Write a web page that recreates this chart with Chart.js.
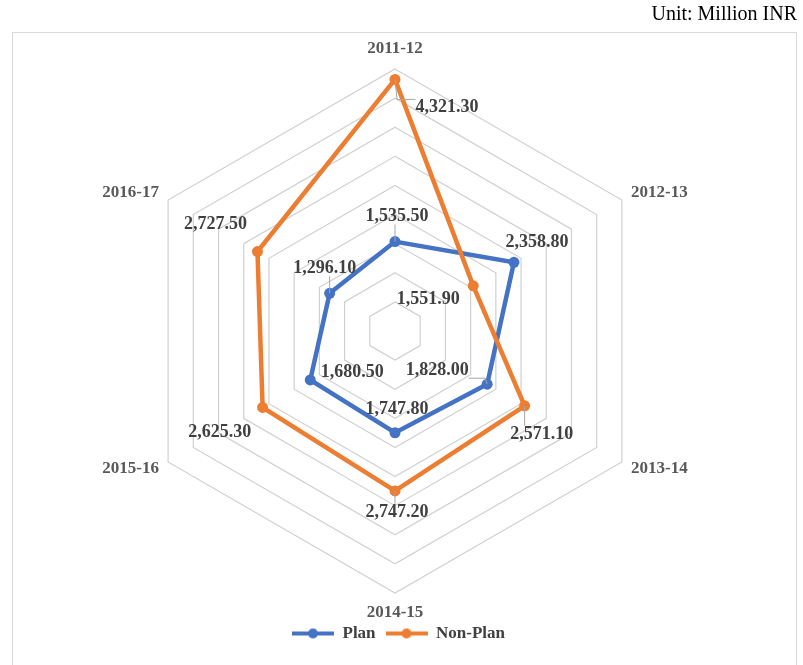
<!DOCTYPE html>
<html>
<head>
<meta charset="utf-8">
<script src="https://cdn.jsdelivr.net/npm/chart.js@4/dist/chart.umd.min.js"></script>
<style>
  html, body { margin: 0; padding: 0; background: #fff; }
  #wrap { width: 803px; height: 665px; }
</style>
</head>
<body>
<div id="wrap"><canvas id="radar" width="803" height="665"></canvas></div>
<script>
const years = ['2011-12', '2012-13', '2013-14', '2014-15', '2015-16', '2016-17'];
const planValues = [1535.50, 2358.80, 1828.00, 1747.80, 1680.50, 1296.10];
const nonPlanValues = [4321.30, 1551.90, 2571.10, 2747.20, 2625.30, 2727.50];
const axisTicks = [0, 500, 1000, 1500, 2000, 2500, 3000, 3500, 4000, 4500];

const serif = "'Liberation Serif', 'Times New Roman', serif";
const blue = '#4472C4';
const orange = '#ED7D31';

// where each data label sits relative to its point (dx, dy), and whether it gets a leader line
const labelOffsets = [
    [[2, -25], [23, -20], [-50, -14], [2, -23], [42, -8], [-5, -25]],
    [[52, 28], [-45, 14], [17, 28], [2, 21], [-43, 25], [-42, -27]]
];
const leaders = [[true, false, true, false, false, true], [true, false, true, true, false, false]];

function legendIcon(color) {
    let c = document.createElement('canvas');
    c.width = 42; c.height = 12;
    let g = c.getContext('2d');
    g.strokeStyle = color;
    g.lineWidth = 4;
    g.beginPath(); g.moveTo(0, 6); g.lineTo(42, 6); g.stroke();
    g.fillStyle = color;
    g.beginPath(); g.arc(21, 6, 5, 0, Math.PI * 2); g.fill();
    return c;
}
const icons = [legendIcon(blue), legendIcon(orange)];

function fmt(v) {
    return v.toLocaleString('en-US', {minimumFractionDigits: 2, maximumFractionDigits: 2});
}

const extras = {
    id: 'extras',
    beforeDraw(chart) {
        let ctx = chart.ctx;
        ctx.save();
        ctx.strokeStyle = '#D9D9D9';
        ctx.lineWidth = 1;
        ctx.strokeRect(12.5, 32.5, 784, 660);
        ctx.restore();
    },
    beforeDatasetsDraw(chart) {
        let ctx = chart.ctx;
        let scale = chart.scales.r;
        ctx.save();
        ctx.font = 'bold 17px ' + serif;
        ctx.fillStyle = '#595959';
        ctx.textBaseline = 'middle';
        years.forEach((y, i) => {
            let side = (i === 0 || i === 3);
            let p = scale.getPointPosition(i, side ? 282 : 276);
            if (side) {
                ctx.textAlign = 'center';
                ctx.fillText(y, p.x, p.y);
            } else if (i < 3) {
                ctx.textAlign = 'left';
                ctx.fillText(y, p.x - 3, p.y);
            } else {
                ctx.textAlign = 'right';
                ctx.fillText(y, p.x + 3, p.y);
            }
        });
        ctx.restore();
    },
    afterDatasetsDraw(chart) {
        let ctx = chart.ctx;
        ctx.save();
        ctx.font = 'bold 18px ' + serif;
        ctx.textAlign = 'center';
        ctx.textBaseline = 'middle';
        chart.data.datasets.forEach((ds, d) => {
            let meta = chart.getDatasetMeta(d);
            meta.data.forEach((pt, i) => {
                let off = labelOffsets[d][i];
                let lx = pt.x + off[0], ly = pt.y + off[1];
                let text = fmt(ds.data[i]);
                let w = ctx.measureText(text).width;
                if (leaders[d][i]) {
                    let bx = Math.max(lx - w / 2, Math.min(pt.x, lx + w / 2));
                    let by = Math.max(ly - 8, Math.min(pt.y, ly + 8));
                    ctx.strokeStyle = '#A6A6A6';
                    ctx.lineWidth = 1;
                    ctx.beginPath();
                    ctx.moveTo(pt.x, pt.y);
                    ctx.lineTo(pt.x + (bx - pt.x) * 0.1, by);
                    ctx.lineTo(bx, by);
                    ctx.stroke();
                }
                ctx.fillStyle = '#404040';
                ctx.fillText(text, lx, ly);
            });
        });
        ctx.restore();
    }
};

let ctx = document.getElementById('radar').getContext('2d');
new Chart(ctx, {
    type: 'radar',
    data: {
        labels: years,
        datasets: [
            {
                label: 'Plan',
                data: planValues,
                borderColor: blue,
                backgroundColor: blue,
                pointBackgroundColor: blue,
                borderWidth: 4.5,
                pointRadius: 5.5,
                pointBorderWidth: 0,
                fill: false,
                order: 1
            },
            {
                label: 'Non-Plan',
                data: nonPlanValues,
                borderColor: orange,
                backgroundColor: orange,
                pointBackgroundColor: orange,
                borderWidth: 4.5,
                pointRadius: 5.5,
                pointBorderWidth: 0,
                fill: false,
                order: 0
            }
        ]
    },
    options: {
        responsive: false,
        animation: false,
        layout: { padding: { left: 0, right: 6, top: 0, bottom: 13 } },
        scales: {
            r: {
                min: axisTicks[0],
                max: axisTicks[axisTicks.length - 1],
                ticks: { display: false, stepSize: axisTicks[1] - axisTicks[0] },
                grid: { color: '#D0D0D0', lineWidth: 1.2 },
                angleLines: { display: false },
                pointLabels: { display: false },
                afterFit(scale) {
                    scale.xCenter = 395;
                    scale.yCenter = 331;
                    scale.drawingArea = 262;
                }
            }
        },
        plugins: {
            tooltip: { enabled: false },
            title: {
                display: true,
                text: 'Unit: Million INR',
                align: 'end',
                color: '#000',
                font: { family: serif, size: 20, weight: 'normal' },
                padding: { top: 3, bottom: 0 }
            },
            legend: {
                position: 'bottom',
                labels: {
                    usePointStyle: true,
                    pointStyleWidth: 42,
                    padding: 10,
                    color: '#404040',
                    font: { family: serif, size: 17, weight: 'bold' },
                    generateLabels(chart) {
                        let items = Chart.defaults.plugins.legend.labels.generateLabels(chart);
                        items.sort((a, b) => a.datasetIndex - b.datasetIndex);
                        return items.map((it) => Object.assign(it, { pointStyle: icons[it.datasetIndex] }));
                    }
                }
            }
        }
    },
    plugins: [extras]
});
</script>
</body>
</html>
